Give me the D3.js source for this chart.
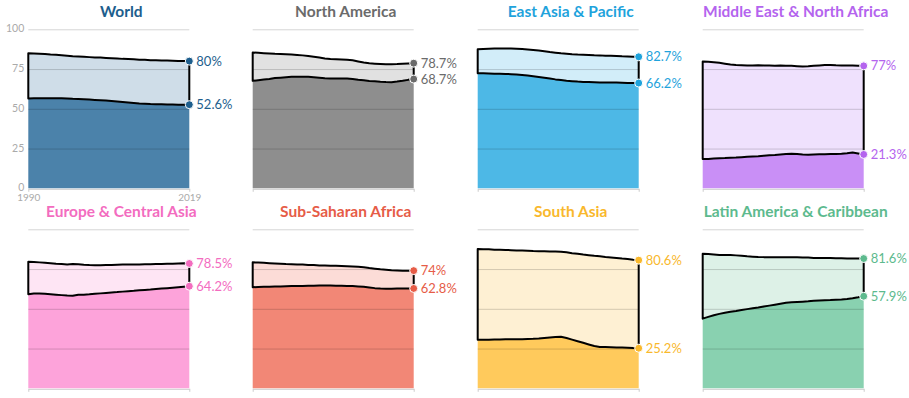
<!DOCTYPE html>
<html>
<head>
<meta charset="utf-8">
<script src="https://cdn.jsdelivr.net/npm/d3@7"></script>
<style>
  body { margin: 0; background: #fff; }
  text { font-family: Lato, "Open Sans", sans-serif; }
</style>
</head>
<body>
<div id="chart"></div>
<script>
var years = d3.range(1990, 2020);

var regions = ["World", "North America", "East Asia & Pacific", "Middle East & North Africa",
               "Europe & Central Asia", "Sub-Saharan Africa", "South Asia", "Latin America & Caribbean"];

// upper line (men) and lower line (women), one value per year 1990-2019
var worldUpper = [84.9,84.8,84.7,84.5,84.2,84.0,83.7,83.4,83.1,82.9,82.7,82.5,82.3,82.2,82.0,81.8,81.6,81.4,81.3,81.1,80.9,80.8,80.6,80.5,80.4,80.3,80.2,80.1,80.1,80.0];
var worldLower = [56.5,56.6,56.7,56.7,56.6,56.6,56.6,56.5,56.3,56.2,56.0,55.8,55.6,55.4,55.2,54.9,54.6,54.3,54.0,53.7,53.4,53.2,53.0,52.9,52.8,52.7,52.7,52.6,52.6,52.6];
var naUpper = [85.4,85.2,85.0,84.8,84.6,84.5,84.3,84.1,83.9,83.6,83.2,82.7,82.2,81.7,81.3,81.2,81.0,80.8,80.5,79.8,79.1,78.6,78.4,78.2,78.0,78.0,78.1,78.3,78.5,78.7];
var naLower = [67.6,68.0,68.4,68.8,69.3,69.6,69.9,70.1,70.2,70.2,70.1,69.8,69.5,69.2,69.0,69.0,69.1,69.0,68.8,68.3,67.9,67.5,67.3,67.0,66.8,66.7,67.1,67.6,68.2,68.7];
var eapUpper = [87.4,87.6,87.8,87.9,88.0,88.0,87.9,87.8,87.6,87.3,87.0,86.6,86.2,85.7,85.3,84.9,84.6,84.3,84.1,84.0,83.9,83.7,83.6,83.4,83.3,83.2,83.0,82.9,82.8,82.7];
var eapLower = [72.4,72.3,72.2,72.1,72.0,71.9,71.8,71.6,71.3,70.9,70.5,70.0,69.5,69.0,68.5,68.1,67.7,67.4,67.1,66.9,66.8,66.7,66.6,66.6,66.5,66.5,66.4,66.3,66.3,66.2];
var menaUpper = [79.7,79.6,79.3,78.9,78.4,77.9,77.6,77.4,77.2,77.3,77.4,77.3,77.2,77.1,77.2,77.1,77.0,76.8,76.6,76.7,77.0,77.3,77.5,77.6,77.4,77.3,77.3,77.2,77.1,77.0];
var menaLower = [18.4,18.5,18.7,18.9,19.0,19.2,19.3,19.6,19.8,20.0,20.2,20.5,20.8,21.0,21.3,21.6,21.8,21.5,21.2,21.1,21.3,21.4,21.4,21.5,21.6,21.8,22.1,22.5,21.9,21.3];
var ecaUpper = [79.6,79.5,79.2,78.9,78.6,78.3,78.1,77.9,78.1,78.0,77.7,77.5,77.4,77.4,77.5,77.6,77.7,77.8,77.9,77.8,77.9,78.0,78.0,78.1,78.2,78.3,78.4,78.5,78.6,78.5];
var ecaLower = [59.2,59.6,59.7,59.5,59.2,58.9,58.6,58.3,58.2,58.8,58.9,59.1,59.4,59.7,60.0,60.3,60.5,60.8,61.1,61.3,61.6,61.9,62.1,62.4,62.7,63.0,63.3,63.6,63.9,64.2];
var ssaUpper = [79.2,79.1,78.9,78.7,78.5,78.3,78.1,78.0,77.9,77.8,77.6,77.5,77.3,77.2,77.1,77.0,76.9,76.8,76.6,76.4,76.1,75.6,75.2,74.8,74.5,74.2,74.1,74.0,74.0,74.0];
var ssaLower = [63.6,63.7,63.8,63.9,64.0,64.1,64.2,64.3,64.4,64.4,64.5,64.5,64.6,64.6,64.6,64.5,64.5,64.4,64.3,64.1,63.8,63.4,63.0,62.7,62.6,62.6,62.7,62.8,62.8,62.8];
var saUpper = [87.6,87.5,87.4,87.2,87.1,87.0,86.9,86.7,86.6,86.5,86.3,86.2,86.2,86.1,86.0,85.9,85.5,85.0,84.6,84.1,83.7,83.3,83.0,82.6,82.3,82.0,81.6,81.3,80.9,80.6];
var saLower = [30.5,30.6,30.6,30.7,30.7,30.8,30.8,30.9,30.9,31.0,31.1,31.3,31.6,31.9,32.2,32.4,31.6,30.6,29.6,28.6,27.6,26.6,26.0,25.9,25.8,25.7,25.6,25.5,25.3,25.2];
var lacUpper = [84.6,84.5,84.2,83.9,83.8,83.8,83.6,83.3,83.0,82.8,82.6,82.5,82.5,82.4,82.4,82.4,82.4,82.4,82.3,82.2,82.0,81.9,82.0,81.9,81.8,81.8,81.7,81.7,81.6,81.6];
var lacLower = [43.8,44.9,45.9,46.8,47.5,48.1,48.6,49.2,49.8,50.3,50.8,51.4,52.0,52.6,53.2,53.8,54.1,54.3,54.5,54.7,55.0,55.2,55.4,55.5,55.7,55.9,56.2,56.6,57.2,57.9];

var upperSeries = [worldUpper, naUpper, eapUpper, menaUpper, ecaUpper, ssaUpper, saUpper, lacUpper];
var lowerSeries = [worldLower, naLower, eapLower, menaLower, ecaLower, ssaLower, saLower, lacLower];
var upperLabels = ["80%", "78.7%", "82.7%", "77%", "78.5%", "74%", "80.6%", "81.6%"];
var lowerLabels = ["52.6%", "68.7%", "66.2%", "21.3%", "64.2%", "62.8%", "25.2%", "57.9%"];
var yTicks = [0, 25, 50, 75, 100];

var darkColors  = ["#4b82aa", "#8e8e8e", "#4db8e6", "#c98ff6", "#fda3da", "#f28776", "#ffca5c", "#89d1b0"];
var lightColors = ["#cfdde8", "#e1e1e1", "#d2edf9", "#efe1fd", "#fee5f4", "#fcdcd7", "#fef0d3", "#ddf1e7"];
var textColors  = ["#1d5e8d", "#6b6b6b", "#1fa3dc", "#b464ee", "#f36cbf", "#e65c47", "#f9b82c", "#5dba8e"];

var W = 909, H = 398,
    pw = 161, ph = 159,
    colX = [28.3, 252.7, 477.7, 702.7],
    rowY = [29.3, 229.3];

var svg = d3.select("#chart").append("svg")
    .attr("width", W)
    .attr("height", H);

var x = d3.scaleLinear().domain([1990, 2019]).range([0, pw]);
var y = d3.scaleLinear().domain([0, 100]).range([ph, 0]);

regions.forEach(function(name, i) {
    var up = upperSeries[i], lo = lowerSeries[i];
    var data = years.map(function(yr, k) { return {year: yr, up: up[k], lo: lo[k]}; });

    var g = svg.append("g")
        .attr("transform", "translate(" + colX[i % 4] + "," + rowY[Math.floor(i / 4)] + ")");

    // title
    g.append("text")
        .attr("x", pw / 2 + 12.5)
        .attr("y", -12.5)
        .attr("text-anchor", "middle")
        .style("font-size", "15.5px")
        .style("font-weight", "bold")
        .style("fill", textColors[i])
        .text(name);

    // x axis (only ends)
    var xAxis = d3.axisBottom(x).tickValues([1990, 2019]).tickFormat(d3.format("d")).tickSize(3).tickSizeOuter(0);
    var ax = g.append("g")
        .attr("transform", "translate(0," + (ph + 0.5) + ")")
        .call(xAxis);
    ax.select(".domain").attr("stroke", "#ccc");
    ax.selectAll(".tick line").attr("stroke", "#ccc");
    ax.selectAll("text")
        .attr("y", 12)
        .attr("dy", 0)
        .style("font-size", "10px")
        .style("fill", "#aaa")
        .style("visibility", i === 0 ? "visible" : "hidden");

    // lower area from zero
    g.append("path")
        .datum(data)
        .attr("fill", darkColors[i])
        .attr("d", d3.area()
            .x(function(d) { return x(d.year); })
            .y0(y(0))
            .y1(function(d) { return y(d.lo); }));

    // gap area between the two lines
    g.append("path")
        .datum(data)
        .attr("fill", lightColors[i])
        .attr("d", d3.area()
            .x(function(d) { return x(d.year); })
            .y0(function(d) { return y(d.lo); })
            .y1(function(d) { return y(d.up); }));

    // gridlines
    var grid = g.append("g").call(d3.axisLeft(y).tickValues(yTicks).tickSize(-pw).tickFormat(""));
    grid.select(".domain").remove();
    grid.selectAll(".tick line")
        .attr("stroke", "#000")
        .attr("stroke-opacity", 0.17)
        .filter(function(d) { return d === 0; }).remove();

    if (i === 0) {
        var yLab = g.append("g")
            .call(d3.axisLeft(y).tickValues(yTicks).tickSize(0).tickPadding(4));
        yLab.select(".domain").remove();
        yLab.selectAll("text")
            .attr("dy", "0.25em")
            .style("font-size", "10.5px")
            .style("fill", "#aaa");
    }

    // black outline of the gap
    g.append("path")
        .datum(data)
        .attr("fill", "none")
        .attr("stroke", "#000")
        .attr("stroke-width", 2)
        .attr("stroke-linejoin", "round")
        .attr("d", d3.area()
            .x(function(d) { return x(d.year); })
            .y0(function(d) { return y(d.lo); })
            .y1(function(d) { return y(d.up); }));

    // end dots and labels
    var last = data[data.length - 1];
    [[last.up, upperLabels[i]], [last.lo, lowerLabels[i]]].forEach(function(p) {
        g.append("circle")
            .attr("cx", x(last.year))
            .attr("cy", y(p[0]))
            .attr("r", 4)
            .attr("fill", textColors[i])
            .attr("stroke", "#fff")
            .attr("stroke-width", 1);
        g.append("text")
            .attr("x", x(last.year) + 7)
            .attr("y", y(p[0]))
            .attr("dy", "0.35em")
            .style("font-size", "13px")
            .style("fill", textColors[i])
            .text(p[1]);
    });
});
</script>
</body>
</html>
